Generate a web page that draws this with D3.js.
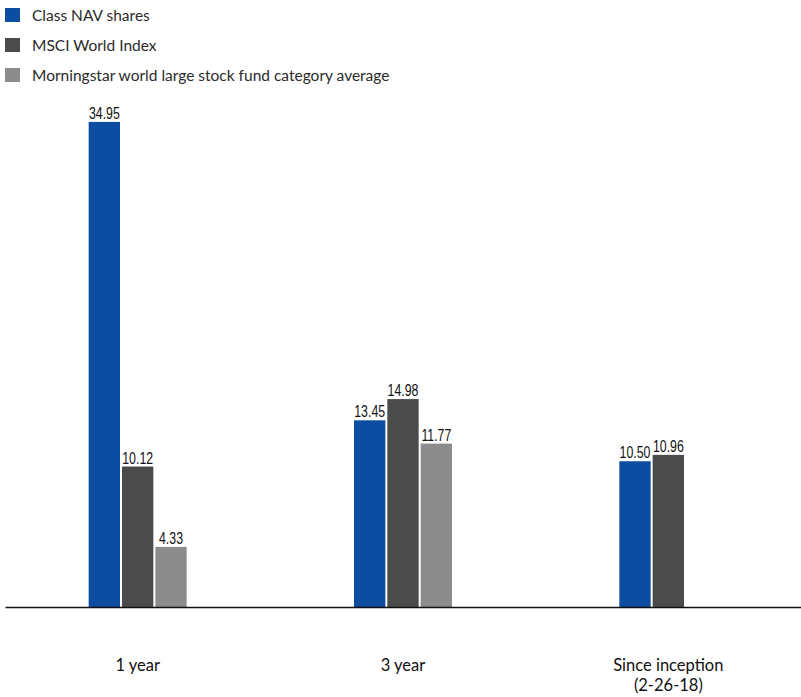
<!DOCTYPE html>
<html>
<head>
<meta charset="utf-8">
<script src="https://cdn.jsdelivr.net/npm/d3@7"></script>
<style>
  html, body { margin: 0; padding: 0; background: #fff; }
  svg { display: block; }
  .legend text { font-family: Lato, "Open Sans", sans-serif; font-size: 15.5px; fill: #2a2a2a; }
  .val { font-family: "Liberation Sans", Arial, sans-serif; font-size: 16px; fill: #111; }
  .xaxis text { font-family: Lato, "Open Sans", sans-serif; font-size: 16.5px; fill: #111; }
</style>
</head>
<body>
<svg id="chart" width="801" height="697"></svg>
<script>
const categories = ["1 year", "3 year", "Since inception"];
const categoryLines = [["1 year"], ["3 year"], ["Since inception", "(2-26-18)"]];
const seriesNames = ["Class NAV shares", "MSCI World Index", "Morningstar world large stock fund category average"];
const classNav = [34.95, 13.45, 10.50];
const msciWorld = [10.12, 14.98, 10.96];
const morningstarAvg = [4.33, 11.77, null];
const seriesColors = ["#0c4ca1", "#4b4b4b", "#8c8c8c"];

const seriesValues = [classNav, msciWorld, morningstarAvg];
const svg = d3.select("#chart");

const baseline = 607;
const x0 = d3.scaleBand().domain(categories).range([5, 801]).paddingInner(0.6307).paddingOuter(0.6307 / 2);
const x1 = d3.scaleBand().domain(seriesNames).range([0, x0.bandwidth()]).paddingInner(0.06);
const y = d3.scaleLinear().domain([0, 35]).range([baseline, baseline - 35 * 13.88]);

const rows = [];
categories.forEach((c, i) => {
  seriesNames.forEach((s, j) => {
    const v = seriesValues[j][i];
    if (v !== null && v !== undefined) rows.push({ cat: c, series: s, value: v, color: seriesColors[j] });
  });
});

const bars = svg.append("g");
bars.selectAll("rect").data(rows).join("rect")
  .attr("x", d => x0(d.cat) + x1(d.series))
  .attr("width", x1.bandwidth())
  .attr("y", d => y(d.value))
  .attr("height", d => y(0) - y(d.value))
  .attr("fill", d => d.color);

// value labels, horizontally condensed
bars.selectAll("text").data(rows).join("text")
  .attr("class", "val")
  .attr("transform", d => `translate(${x0(d.cat) + x1(d.series) + x1.bandwidth() / 2},${y(d.value) - 3}) scale(0.77,1)`)
  .attr("text-anchor", "middle")
  .text(d => d.value.toFixed(2));

// x axis
const xAxis = svg.append("g").attr("class", "xaxis")
  .attr("transform", `translate(0,${baseline})`)
  .call(d3.axisBottom(x0).tickSize(0).tickSizeOuter(0));
xAxis.select(".domain").attr("stroke", "#111").attr("stroke-width", 1.6);
xAxis.selectAll(".tick text").each(function(d, i) {
  const t = d3.select(this);
  t.text(null).attr("y", 65).attr("dy", null);
  categoryLines[i].forEach((line, k) => {
    t.append("tspan").attr("x", 0).attr("y", 64 + k * 20).text(line);
  });
});

// legend
const legend = svg.append("g").attr("class", "legend");
seriesNames.forEach((s, i) => {
  const g = legend.append("g").attr("transform", `translate(5,${8 + i * 30})`);
  g.append("rect").attr("width", 15).attr("height", 14).attr("fill", seriesColors[i]);
  g.append("text").attr("x", 27).attr("y", 13).text(s);
});
</script>
</body>
</html>
